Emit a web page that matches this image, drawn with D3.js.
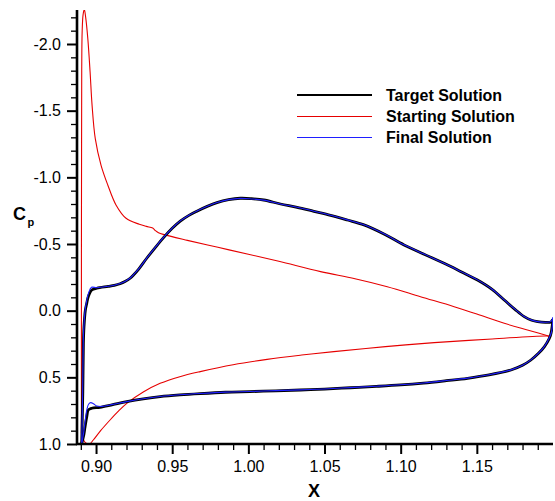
<!DOCTYPE html>
<html><head><meta charset="utf-8">
<script src="https://cdn.jsdelivr.net/npm/d3@7"></script>
<style>body{margin:0;background:#fff}svg{display:block}text{font-family:"Liberation Sans",Arial,sans-serif}</style>
</head><body><svg id="c" width="555" height="501"></svg>
<script>
// ---- tick values and labels ----
const xMajorTicks = [0.90, 0.95, 1.00, 1.05, 1.10, 1.15];
const xTickLabels = ["0.90", "0.95", "1.00", "1.05", "1.10", "1.15"];
const xMinorTicks = [0.89,0.91,0.92,0.93,0.94,0.96,0.97,0.98,0.99,1.01,1.02,1.03,1.04,1.06,1.07,1.08,1.09,1.11,1.12,1.13,1.14,1.16,1.17,1.18,1.19];
const yMajorTicks = [-2.0, -1.5, -1.0, -0.5, 0.0, 0.5, 1.0];
const yTickLabels = ["-2.0", "-1.5", "-1.0", "-0.5", "0.0", "0.5", "1.0"];
const yMinorTicks = [-2.2,-2.1,-1.9,-1.8,-1.7,-1.6,-1.4,-1.3,-1.2,-1.1,-0.9,-0.8,-0.7,-0.6,-0.4,-0.3,-0.2,-0.1,0.1,0.2,0.3,0.4,0.6,0.7,0.8,0.9];

// ---- series ----
const seriesNames = ["Target Solution", "Starting Solution", "Final Solution"];

const targetUpperX  = [0.8906,0.8913,0.8917,0.8921,0.8930,0.8939,0.8949,0.8972,0.9005,0.9080,0.9120,0.9158,0.9190,0.9224,0.9252,0.9280,0.9334,0.9390,0.9443,0.9500,0.9553,0.9610,0.9662,0.9730,0.9794,0.9870,0.9947,1.0020,1.0101,1.0211,1.0320,1.0430,1.0540,1.0650,1.0759,1.0890,1.1022,1.1150,1.1285,1.1400,1.1504,1.1600,1.1680,1.1750,1.1811,1.1860,1.1899,1.1950,1.1987,1.1998];
const targetUpperCp = [0.995,0.62,0.245,0.12,-0.005,-0.055,-0.105,-0.155,-0.168,-0.182,-0.19,-0.202,-0.218,-0.243,-0.275,-0.312,-0.395,-0.475,-0.548,-0.618,-0.672,-0.715,-0.746,-0.782,-0.81,-0.832,-0.843,-0.840,-0.83,-0.80,-0.775,-0.745,-0.715,-0.68,-0.643,-0.575,-0.493,-0.425,-0.355,-0.29,-0.23,-0.16,-0.08,-0.01,0.045,0.072,0.083,0.088,0.085,0.065];
const targetLowerX  = [0.8906,0.8920,0.8928,0.8940,0.8949,0.8972,0.9026,0.9110,0.9202,0.9310,0.9421,0.9550,0.9684,0.9850,1.0010,1.0180,1.0342,1.0500,1.0670,1.0840,1.1000,1.1150,1.1300,1.1439,1.1580,1.1724,1.1800,1.1855,1.1905,1.1944,1.1975,1.1987,1.1998];
const targetLowerCp = [0.995,0.93,0.87,0.79,0.745,0.732,0.725,0.705,0.683,0.662,0.645,0.632,0.622,0.612,0.607,0.601,0.595,0.588,0.578,0.568,0.557,0.543,0.525,0.507,0.482,0.445,0.41,0.37,0.32,0.27,0.21,0.17,0.083];

const startUpperX  = [0.8904,0.8904,0.8904,0.8905,0.8906,0.8909,0.8915,0.8923,0.8932,0.8946,0.8961,0.8974,0.8995,0.9033,0.9077,0.9131,0.9197,0.9284,0.9330,0.9372,0.9390,0.9410,0.9441,0.9600,0.9800,1.0000,1.0200,1.0474,1.0700,1.0912,1.1130,1.1351,1.1500,1.1680,1.1850,1.1987];
const startUpperCp = [0.92,0.40,-0.40,-1.20,-1.80,-2.10,-2.22,-2.26,-2.20,-2.04,-1.79,-1.54,-1.29,-1.09,-0.943,-0.793,-0.693,-0.648,-0.632,-0.620,-0.600,-0.585,-0.572,-0.527,-0.475,-0.423,-0.37,-0.293,-0.24,-0.18,-0.105,-0.03,0.025,0.095,0.15,0.195];
const startLowerX  = [0.8904,0.8915,0.8930,0.8956,0.8982,0.9030,0.9092,0.9150,0.9202,0.9310,0.9421,0.9550,0.9684,0.9900,1.0123,1.0350,1.0561,1.0900,1.1220,1.1600,1.1965,1.1987];
const startLowerCp = [0.92,0.96,0.99,1.00,0.97,0.90,0.82,0.75,0.695,0.61,0.545,0.495,0.457,0.405,0.365,0.333,0.307,0.27,0.24,0.212,0.19,0.195];

const finalUpperX  = [0.8906,0.8912,0.8916,0.8920,0.8929,0.8938,0.8950,0.8970,0.9005,0.9080,0.9120,0.9158,0.9190,0.9224,0.9252,0.9280,0.9334,0.9390,0.9443,0.9500,0.9553,0.9610,0.9662,0.9730,0.9794,0.9870,0.9947,1.0020,1.0101,1.0211,1.0320,1.0430,1.0540,1.0650,1.0759,1.0890,1.1022,1.1150,1.1285,1.1400,1.1504,1.1600,1.1680,1.1750,1.1811,1.1860,1.1899,1.1950,1.1987,1.2000];
const finalUpperCp = [0.995,0.62,0.245,0.12,-0.01,-0.07,-0.13,-0.175,-0.172,-0.183,-0.191,-0.203,-0.219,-0.245,-0.277,-0.313,-0.396,-0.476,-0.549,-0.619,-0.673,-0.716,-0.747,-0.783,-0.811,-0.833,-0.842,-0.838,-0.829,-0.80,-0.776,-0.746,-0.716,-0.681,-0.644,-0.576,-0.494,-0.426,-0.356,-0.291,-0.231,-0.161,-0.081,-0.011,0.044,0.071,0.082,0.087,0.08,0.05];
const finalLowerX  = [0.8906,0.8918,0.8927,0.8940,0.8952,0.8965,0.8985,0.9005,0.9040,0.9110,0.9202,0.9310,0.9421,0.9550,0.9684,0.9850,1.0010,1.0180,1.0342,1.0500,1.0670,1.0840,1.1000,1.1150,1.1300,1.1439,1.1580,1.1724,1.1800,1.1855,1.1905,1.1944,1.1975,1.1990,1.2000];
const finalLowerCp = [0.995,0.92,0.84,0.74,0.70,0.69,0.70,0.715,0.718,0.703,0.682,0.661,0.644,0.631,0.621,0.611,0.606,0.600,0.594,0.587,0.577,0.567,0.556,0.542,0.524,0.506,0.481,0.444,0.409,0.369,0.319,0.268,0.205,0.16,0.05];

// ---- chart ----
const svg = d3.select("#c");
const x = d3.scaleLinear().domain([0.8875, 1.2]).range([77, 553]);
const y = d3.scaleLinear().domain([-2.255, 1.0]).range([10, 444]);
const FONT = '"Liberation Sans", Arial, sans-serif';

svg.append("defs").append("clipPath").attr("id","clip")
  .append("rect").attr("x",77).attr("y",10).attr("width",476).attr("height",434);

const zip = (xs, ys) => xs.map((v,i)=>[v, ys[i]]);
const line = d3.line().x(d=>x(d[0])).y(d=>y(d[1])).curve(d3.curveCatmullRom.alpha(0.5));
const plot = svg.append("g").attr("clip-path","url(#clip)");

const target = {name: seriesNames[0], color:"#000000", width:2.8, parts:[zip(targetUpperX,targetUpperCp), zip(targetLowerX,targetLowerCp)]};
const start  = {name: seriesNames[1], color:"#e60000", width:1.1, parts:[zip(startUpperX,startUpperCp), zip(startLowerX,startLowerCp)]};
const fin    = {name: seriesNames[2], color:"#1f1fff", width:1.1, parts:[zip(finalUpperX,finalUpperCp), zip(finalLowerX,finalLowerCp)]};

[start, target, fin].forEach(s => s.parts.forEach(p => {
  plot.append("path").datum(p).attr("d", line).attr("fill","none")
    .attr("stroke", s.color).attr("stroke-width", s.width).attr("stroke-linejoin","round");
}));

// axes
function styleAxis(g, major) {
  g.selectAll(".tick line").attr("stroke","#000").attr("stroke-width", major ? 2 : 1.3);
  g.selectAll("text").attr("font-family", FONT).attr("font-size", 16).attr("fill","#000");
}
const yMinor = svg.append("g").attr("transform","translate(77,0)")
  .call(d3.axisLeft(y).tickValues(yMinorTicks).tickSize(6).tickFormat(""));
yMinor.select(".domain").remove(); styleAxis(yMinor,false);
const xMinor = svg.append("g").attr("transform","translate(0,444)")
  .call(d3.axisBottom(x).tickValues(xMinorTicks).tickSize(6).tickFormat(""));
xMinor.select(".domain").remove(); styleAxis(xMinor,false);

const yAx = svg.append("g").attr("transform","translate(77,0)")
  .call(d3.axisLeft(y).tickValues(yMajorTicks).tickSize(10).tickPadding(6).tickSizeOuter(0)
    .tickFormat((d,i)=>yTickLabels[i]));
yAx.select(".domain").remove(); styleAxis(yAx,true);
const xAx = svg.append("g").attr("transform","translate(0,444)")
  .call(d3.axisBottom(x).tickValues(xMajorTicks).tickSize(10).tickPadding(7).tickSizeOuter(0)
    .tickFormat((d,i)=>xTickLabels[i]));
xAx.select(".domain").remove(); styleAxis(xAx,true);

// axis lines
svg.append("line").attr("x1",77).attr("x2",77).attr("y1",10).attr("y2",445)
  .attr("stroke","#000").attr("stroke-width",2.6);
svg.append("line").attr("x1",76).attr("x2",553).attr("y1",444).attr("y2",444)
  .attr("stroke","#000").attr("stroke-width",2.6);

// axis titles
svg.append("text").attr("x",314).attr("y",497).attr("text-anchor","middle")
  .attr("font-family",FONT).attr("font-weight","bold").attr("font-size",18).text("X");
svg.append("text").attr("x",13).attr("y",220)
  .attr("font-family",FONT).attr("font-weight","bold").attr("font-size",18).text("C");
svg.append("text").attr("x",27.5).attr("y",226)
  .attr("font-family",FONT).attr("font-weight","bold").attr("font-size",11).text("p");

// legend (Target, Starting, Final)
const legendY = [95, 116.5, 137.5];
[target, start, fin].forEach((s,i)=>{
  svg.append("line").attr("x1",297).attr("x2",372).attr("y1",legendY[i]).attr("y2",legendY[i])
    .attr("stroke", s.color).attr("stroke-width", i===0 ? 2.2 : 1.1);
  svg.append("text").attr("x",386).attr("y",legendY[i]).attr("dy","0.36em")
    .attr("font-family",FONT).attr("font-weight","bold").attr("font-size",16).text(s.name);
});
</script></body></html>
